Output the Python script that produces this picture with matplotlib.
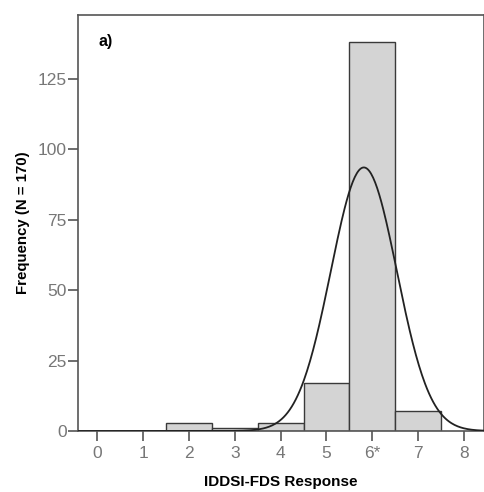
import numpy as np
import matplotlib
matplotlib.use('Agg')
import matplotlib.pyplot as plt

plt.rcParams['font.family'] = ['Liberation Sans', 'DejaVu Sans']

# histogram counts per response level
levels = [0, 1, 2, 3, 4, 5, 6, 7, 8]
counts = [0, 0, 3, 1, 3, 17, 138, 7, 0]
tick_labels = ['0', '1', '2', '3', '4', '5', '6*', '7', '8']

fig = plt.figure(figsize=(4.85, 4.92), dpi=100)
ax = fig.add_axes([0.161, 0.124, 0.837, 0.846])

lv = np.array(levels)
ct = np.array(counts)
shown = ct > 0
ax.bar(lv[shown], ct[shown], width=1.0, color='#d4d4d4', edgecolor='#3a3a3a', linewidth=1.0, zorder=2)

# normal curve fitted to the data (as SPSS draws it)
n = ct.sum()
mu = (lv * ct).sum() / n
sd = np.sqrt(((lv - mu) ** 2 * ct).sum() / (n - 1))
xs = np.linspace(-0.42, 8.44, 400)
ys = n / (sd * np.sqrt(2 * np.pi)) * np.exp(-0.5 * ((xs - mu) / sd) ** 2)
ax.plot(xs, ys, color='#222222', linewidth=1.3, zorder=3)

ax.set_xlim(-0.42, 8.44)
ax.set_ylim(0, 147.7)
ax.set_xticks(levels)
ax.set_xticklabels(tick_labels)
ax.set_yticks([0, 25, 50, 75, 100, 125])

for s in ax.spines.values():
    s.set_color('#555555')
    s.set_linewidth(1.2)
ax.tick_params(axis='both', colors='#555555', labelcolor='#777777', labelsize=12.5, length=7, width=1.2)
ax.tick_params(axis='x', pad=4)
ax.tick_params(axis='y', pad=1)

ax.set_xlabel('IDDSI-FDS Response', fontsize=11, fontweight='bold', labelpad=10)
ax.set_ylabel('Frequency (N = 170)', fontsize=10.8, fontweight='bold', labelpad=6)
ax.text(0.05, 0.925, 'a)', transform=ax.transAxes, fontsize=11.5, fontweight='bold')

fig.savefig('out.png', dpi=100)
